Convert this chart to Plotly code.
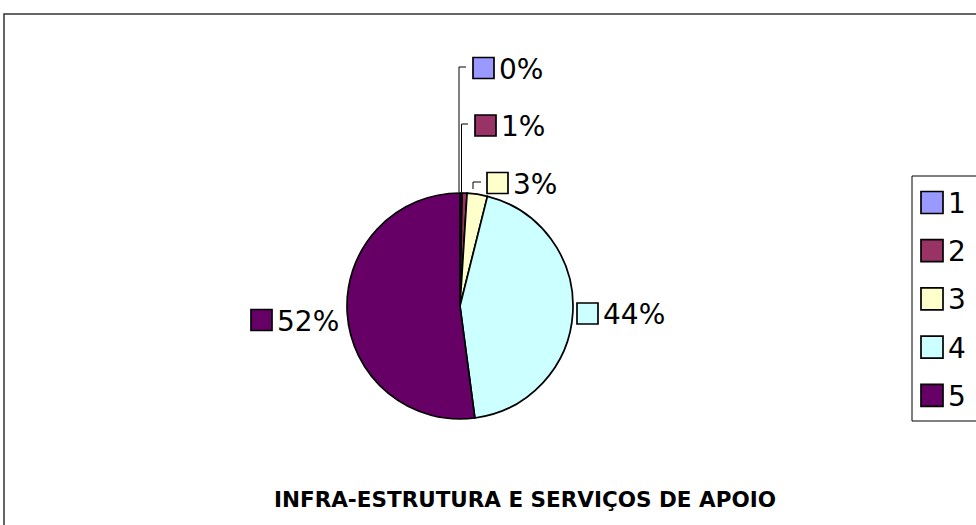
import plotly.graph_objects as go

# ---- data ----
categories = ["1", "2", "3", "4", "5"]
values = [0.3, 0.7, 2.9, 44.0, 52.1]
colors = ["#9999FF", "#993366", "#FFFFCC", "#CCFFFF", "#660066"]
title_text = "INFRA-ESTRUTURA E SERVIÇOS DE APOIO"

W, H = 976, 525
FONT = "DejaVu Sans, Liberation Sans, Arial, sans-serif"


def px(x):
    return x / W


def py(y):
    return 1 - y / H


total = sum(values)
pct_text = [f"{round(v / total * 100):.0f}%" for v in values]

fig = go.Figure()

cx, cy, r = 460, 306, 113
fig.add_trace(go.Pie(
    labels=categories,
    values=values,
    sort=False,
    direction="clockwise",
    rotation=0,
    marker=dict(colors=colors, line=dict(color="black", width=1.7)),
    textinfo="none",
    hoverinfo="label+percent",
    showlegend=False,
    domain=dict(x=[px(cx - r), px(cx + r)], y=[py(cy + r), py(cy - r)]),
))

shapes = []
annotations = []

# chart area border
shapes.append(dict(type="rect", xref="paper", yref="paper",
                   x0=px(4), x1=px(W + 10), y0=py(H + 10), y1=py(14),
                   line=dict(color="#333333", width=1.5), fillcolor="rgba(0,0,0,0)"))

# data labels (legend key square + percent), layout positions
label_pos = {  # index: (square left x, center y)
    0: (473, 68),
    1: (475, 125.5),
    2: (487, 183),
    3: (577, 313.5),
    4: (251, 320),
}
sq = 21
LBL = 28
for i, (lx, ly) in label_pos.items():
    shapes.append(dict(type="rect", xref="paper", yref="paper",
                       x0=px(lx), x1=px(lx + sq), y0=py(ly + sq / 2), y1=py(ly - sq / 2),
                       line=dict(color="black", width=1.7), fillcolor=colors[i]))
    annotations.append(dict(xref="paper", yref="paper", x=px(lx + sq + 3), y=py(ly + 1),
                            xanchor="left", yanchor="middle", showarrow=False,
                            text=pct_text[i], font=dict(family=FONT, size=LBL, color="black")))

# leader lines for the small slices
leaders = [  # (vertical x, top y, bottom y, horizontal end x)
    (459, 67, 192, 466),
    (461.5, 124, 192, 468),
    (473, 182, 189, 481),
]
for (vx, ty, by, hx) in leaders:
    shapes.append(dict(type="path", xref="paper", yref="paper",
                       path=f"M {px(hx)},{py(ty)} L {px(vx)},{py(ty)} L {px(vx)},{py(by)}",
                       line=dict(color="black", width=1)))

# legend box
shapes.append(dict(type="rect", xref="paper", yref="paper",
                   x0=px(912), x1=px(W + 10), y0=py(421), y1=py(176),
                   line=dict(color="black", width=1), fillcolor="white", layer="below"))
leg_y0, leg_dy = 202.5, 48.2
sq_l = 22
for i, c in enumerate(categories):
    yy = leg_y0 + i * leg_dy
    shapes.append(dict(type="rect", xref="paper", yref="paper",
                       x0=px(921), x1=px(921 + sq_l), y0=py(yy + sq_l / 2), y1=py(yy - sq_l / 2),
                       line=dict(color="black", width=1.7), fillcolor=colors[i]))
    annotations.append(dict(xref="paper", yref="paper", x=px(946), y=py(yy + 1),
                            xanchor="left", yanchor="middle", showarrow=False,
                            text=c, font=dict(family=FONT, size=LBL, color="black")))

# title at bottom
annotations.append(dict(xref="paper", yref="paper", x=px(525), y=py(499),
                        xanchor="center", yanchor="middle", showarrow=False,
                        text=f"<b>{title_text}</b>",
                        font=dict(family=FONT, size=21.5, color="black")))

fig.update_layout(
    width=W, height=H,
    margin=dict(l=0, r=0, t=0, b=0),
    paper_bgcolor="white",
    plot_bgcolor="white",
    shapes=shapes,
    annotations=annotations,
)

fig.write_html(
    "out.html",
    config={"displayModeBar": False},
    post_script="document.body.style.margin='0px';document.body.style.overflow='hidden';",
)
